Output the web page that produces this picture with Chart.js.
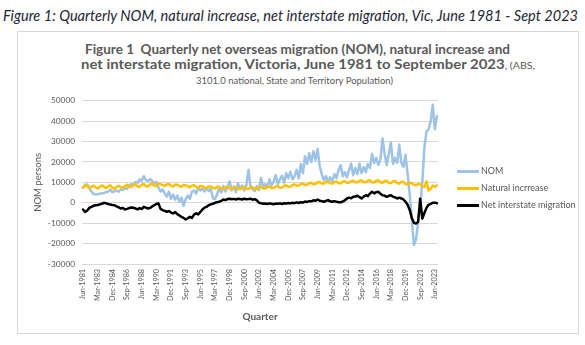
<!DOCTYPE html>
<html>
<head>
<meta charset="utf-8">
<script src="https://cdn.jsdelivr.net/npm/chart.js@4.4.0/dist/chart.umd.min.js"></script>
<style>
  html, body { margin: 0; padding: 0; background: #fff; }
  #wrap { position: relative; width: 585px; height: 345px; overflow: hidden; background: #fff; }
  .txt { position: absolute; white-space: nowrap; display: inline-block; transform-origin: 0 50%; }
  #box { position: absolute; left: 17px; top: 31px; width: 562px; height: 303px; border: 1px solid #d9d9d9; box-sizing: border-box; }
  #cc { position: absolute; left: 0; top: 0; width: 585px; height: 345px; }
  .leg { position: absolute; left: 457px; height: 12px; }
  .leg .ln { position: absolute; left: 0; top: 5px; width: 22px; height: 2.5px; }
  .leg .lb { position: absolute; left: 24px; top: 0; font: 9px Lato, sans-serif; color: #595959; line-height: 12px; white-space: nowrap; }
</style>
</head>
<body>
<div id="wrap">
  <div id="cap" class="txt" style="left:3px;top:7px;font:italic 14.5px Lato, sans-serif;line-height:17px;color:#1e2533;">Figure 1: Quarterly NOM, natural increase, net interstate migration, Vic, June 1981 - Sept 2023</div>
  <div id="box"></div>
  <div id="t1" class="txt" style="left:85px;top:41px;font:bold 14px Lato, sans-serif;line-height:16px;color:#595959;">Figure 1&nbsp; Quarterly net overseas migration (NOM), natural increase and</div>
  <div id="t2" class="txt" style="left:81px;top:56px;font:bold 14px Lato, sans-serif;line-height:16px;color:#595959;">net interstate migration, Victoria, June 1981 to September 2023<span style="font:10px Lato, sans-serif;">, (ABS,</span></div>
  <div id="t3" class="txt" style="left:196px;top:73px;font:10px Lato, sans-serif;line-height:14px;color:#595959;">3101.0 national, State and Territory Population)</div>
  <div id="cc"><canvas id="c"></canvas></div>
  <div id="legend"></div>
</div>
<script>
// ---- Data ----
const seriesNames = ['NOM', 'Natural incrrease', 'Net interstate migration'];

const nom = [
  7400, 8800, 9000, 7200, 5500, 4300, 4100, 4200, 4500, 4600,
  4800, 5200, 5400, 6500, 5200, 5600, 6000, 5400, 6500, 6200,
  7200, 6800, 8500, 9200, 8600, 10200, 9800, 11500, 10800, 13000,
  11200, 10500, 11600, 10800, 9500, 10200, 7500, 5500, 6500, 4500,
  3000, 5500, 2000, 4000, 1500, 3500, 500, 2500, -1500, 1800,
  3500, 2000, 5500, 6000, 4500, 7500, 6000, 7000, 5500, 7200,
  5800, 6800, 2200, 1800, 4000, 7500, 5000, 8200, 5500, 7800,
  10500, 6000, 8000, 5200, 9500, 6800, 8400, 6000, 8800, 16200,
  7800, 6500, 5800, 8200, 6200, 12200, 7800, 9200, 7500, 11500,
  8500, 10200, 13500, 9000, 11500, 13200, 9800, 14500, 12000, 15200,
  11500, 13000, 16200, 12000, 19000, 14500, 22800, 19000, 24400, 20000,
  25200, 21000, 26300, 18000, 14000, 11000, 13000, 10000, 12500, 10500,
  14000, 12000, 16000, 18400, 13000, 15000, 12500, 16000, 19200, 13500,
  17000, 14000, 19200, 14500, 17500, 15000, 19000, 17000, 24000, 19500,
  22000, 18500, 21000, 31500, 24000, 18400, 24000, 29500, 19000, 22000,
  19500, 28500, 19500, 17500, 23500, 14000, 4000, -8000, -20700, -18000,
  -10000, -2000, 10000, 27000, 35000, 36000, 40000, 48000, 36000, 42500
];

const naturalIncrease = [
  7400, 8600, 8200, 7200, 7800, 8400, 7600, 7000, 7800, 8500,
  7900, 7200, 8000, 8600, 7400, 6800, 7800, 8300, 7600, 7400,
  8200, 8800, 7900, 7800, 8600, 9000, 8000, 7800, 8800, 9200,
  8200, 8000, 9000, 9600, 8400, 8200, 9400, 9200, 8600, 8200,
  9000, 9200, 8400, 8000, 8800, 8800, 8200, 7800, 8700, 8600,
  8000, 7600, 8400, 8600, 7800, 7400, 8200, 8200, 7400, 7200,
  8000, 8000, 7200, 7000, 7800, 7800, 7000, 6800, 7600, 7800,
  7000, 6800, 7600, 7600, 6800, 6600, 7400, 7600, 6900, 6700,
  7500, 7600, 6900, 6800, 7600, 7800, 7000, 7000, 7800, 8000,
  7200, 7200, 8000, 8200, 7500, 7400, 8300, 8600, 7800, 7800,
  8700, 9000, 8300, 8400, 9200, 9400, 8700, 8800, 9600, 9800,
  9100, 9200, 10000, 10200, 9400, 9400, 10200, 10300, 9500, 9400,
  10200, 10400, 9600, 9600, 10400, 10600, 9800, 9800, 10600, 10800,
  10000, 10000, 10800, 11000, 10100, 10000, 10800, 11000, 10000, 9900,
  10800, 11000, 10000, 9800, 10700, 10800, 9800, 9600, 10500, 10600,
  9600, 9400, 10200, 10300, 9200, 9000, 9800, 9600, 8800, 8600,
  9200, 9000, 8200, 7600, 10500, 6000, 6800, 8400, 7800, 8500
];

const netInterstate = [
  -3300, -4500, -3800, -2500, -2000, -1500, -1200, -1100, -800, -500,
  0, -300, -600, -900, -1100, -1200, -1800, -2200, -2800, -2500,
  -3300, -3000, -2600, -2300, -2400, -2800, -3300, -2600, -3100, -2000,
  -2400, -2800, -2600, -1800, -1200, -600, -300, -3000, -3600, -4000,
  -4400, -4000, -4800, -5200, -4600, -5600, -6200, -6900, -7400, -8200,
  -7600, -6900, -7400, -5800, -5200, -5700, -4500, -3300, -2400, -2000,
  -1200, -800, -500, 0, 300, 500, 900, 1600, 1300, 1800,
  2000, 1700, 1900, 1600, 2000, 1800, 1600, 2000, 1700, 1800,
  2000, 1500, 1800, 1200, 0, -200, -500, -400, -600, -300,
  -500, -700, -400, -500, -300, -600, -200, -400, -100, -300,
  0, -200, 200, -100, 300, 100, 600, 400, 800, 700,
  1200, 1000, 1600, 1000, 800, 500, 900, 1300, 700, 500,
  800, 500, 300, 200, 600, 1200, 2100, 2500, 2200, 2900,
  3100, 3400, 2800, 2100, 3000, 3700, 3200, 4500, 5400, 4600,
  5200, 5400, 4400, 3700, 3500, 2900, 3400, 3700, 3000, 2600,
  2100, 2500, 2100, 1600, 500, -1000, -3500, -7500, -9800, -10200,
  -9300, 2000, -7800, -5000, -2500, -1000, -500, 0, 0, -200
];

const tickLabels = ['Jun-1981','Mar-1983','Dec-1984','Sep-1986','Jun-1988','Mar-1990','Dec-1991',
  'Sep-1993','Jun-1995','Mar-1997','Dec-1998','Sep-2000','Jun-2002','Mar-2004','Dec-2005',
  'Sep-2007','Jun-2009','Mar-2011','Dec-2012','Sep-2014','Jun-2016','Mar-2018','Dec-2019',
  'Sep-2021','Jun-2023'];

// Quarterly categories from Jun-1981 to Sep-2023
const monthNames = ['Mar', 'Jun', 'Sep', 'Dec'];
const quarters = [];
for (let k = 0; k < nom.length; k++) {
  quarters.push(monthNames[(k + 1) % 4] + '-' + (1981 + Math.floor((k + 1) / 4)));
}

const colors = ['#9dc3e6', '#ffc000', '#000000'];

const chart = new Chart(document.getElementById('c'), {
  type: 'line',
  data: {
    labels: quarters,
    datasets: [
      { label: seriesNames[0], data: nom, borderColor: colors[0], backgroundColor: colors[0], order: 3 },
      { label: seriesNames[1], data: naturalIncrease, borderColor: colors[1], backgroundColor: colors[1], order: 2 },
      { label: seriesNames[2], data: netInterstate, borderColor: colors[2], backgroundColor: colors[2], order: 1 }
    ]
  },
  options: {
    responsive: true,
    maintainAspectRatio: false,
    animation: false,
    events: [],
    elements: {
      line: { borderWidth: 2.5, tension: 0, borderJoinStyle: 'round', borderCapStyle: 'round' },
      point: { radius: 0 }
    },
    layout: { padding: { left: 0, top: 100.7, right: 147, bottom: 0 } },
    plugins: { legend: { display: false }, title: { display: false }, tooltip: { enabled: false } },
    scales: {
      x: {
        type: 'category',
        offset: true,
        grid: { display: false, drawTicks: false },
        border: { display: false },
        ticks: {
          autoSkip: false, minRotation: 90, maxRotation: 90, padding: 5,
          color: '#595959', font: { family: 'Lato', size: 7.2 },
          callback: function (val, index) {
            const lab = quarters[index];
            return tickLabels.includes(lab) ? lab : null;
          }
        },
        title: { display: true, text: 'Quarter', color: '#595959',
                 font: { family: 'Lato', size: 10, weight: 'bold' }, padding: { top: 0, bottom: 22 } },
        afterFit: function (s) { s.height = 81; }
      },
      y: {
        min: -30000, max: 50000,
        grid: { color: '#d9d9d9', lineWidth: 1, drawTicks: false },
        border: { display: false },
        ticks: { stepSize: 10000, padding: 7, color: '#595959', font: { family: 'Lato', size: 8.3 },
                 callback: function (v) { return String(v); } },
        title: { display: true, text: 'NOM persons', color: '#595959',
                 font: { family: 'Lato', size: 9.5 }, padding: { top: 32, bottom: 0 } },
        afterFit: function (s) { s.width = 82; }
      }
    }
  }
});

// Legend built from the chart's datasets
const legendTops = [165, 182, 199];
const legendEl = document.getElementById('legend');
chart.data.datasets.forEach(function (ds, i) {
  const item = document.createElement('div');
  item.className = 'leg';
  item.style.top = legendTops[i] + 'px';
  item.innerHTML = '<div class="ln" style="background:' + ds.borderColor + '"></div><div class="lb">' + ds.label + '</div>';
  legendEl.appendChild(item);
});

function fit(id, w) {
  const el = document.getElementById(id);
  el.style.transform = 'none';
  const r = el.getBoundingClientRect().width;
  if (r > 0) el.style.transform = 'scaleX(' + (w / r) + ')';
}
function fitAll() {
  fit('cap', 575);
  fit('t1', 425);
  fit('t2', 454);
  fit('t3', 197);
}
fitAll();
if (document.fonts && document.fonts.ready) document.fonts.ready.then(fitAll);
</script>
</body>
</html>
